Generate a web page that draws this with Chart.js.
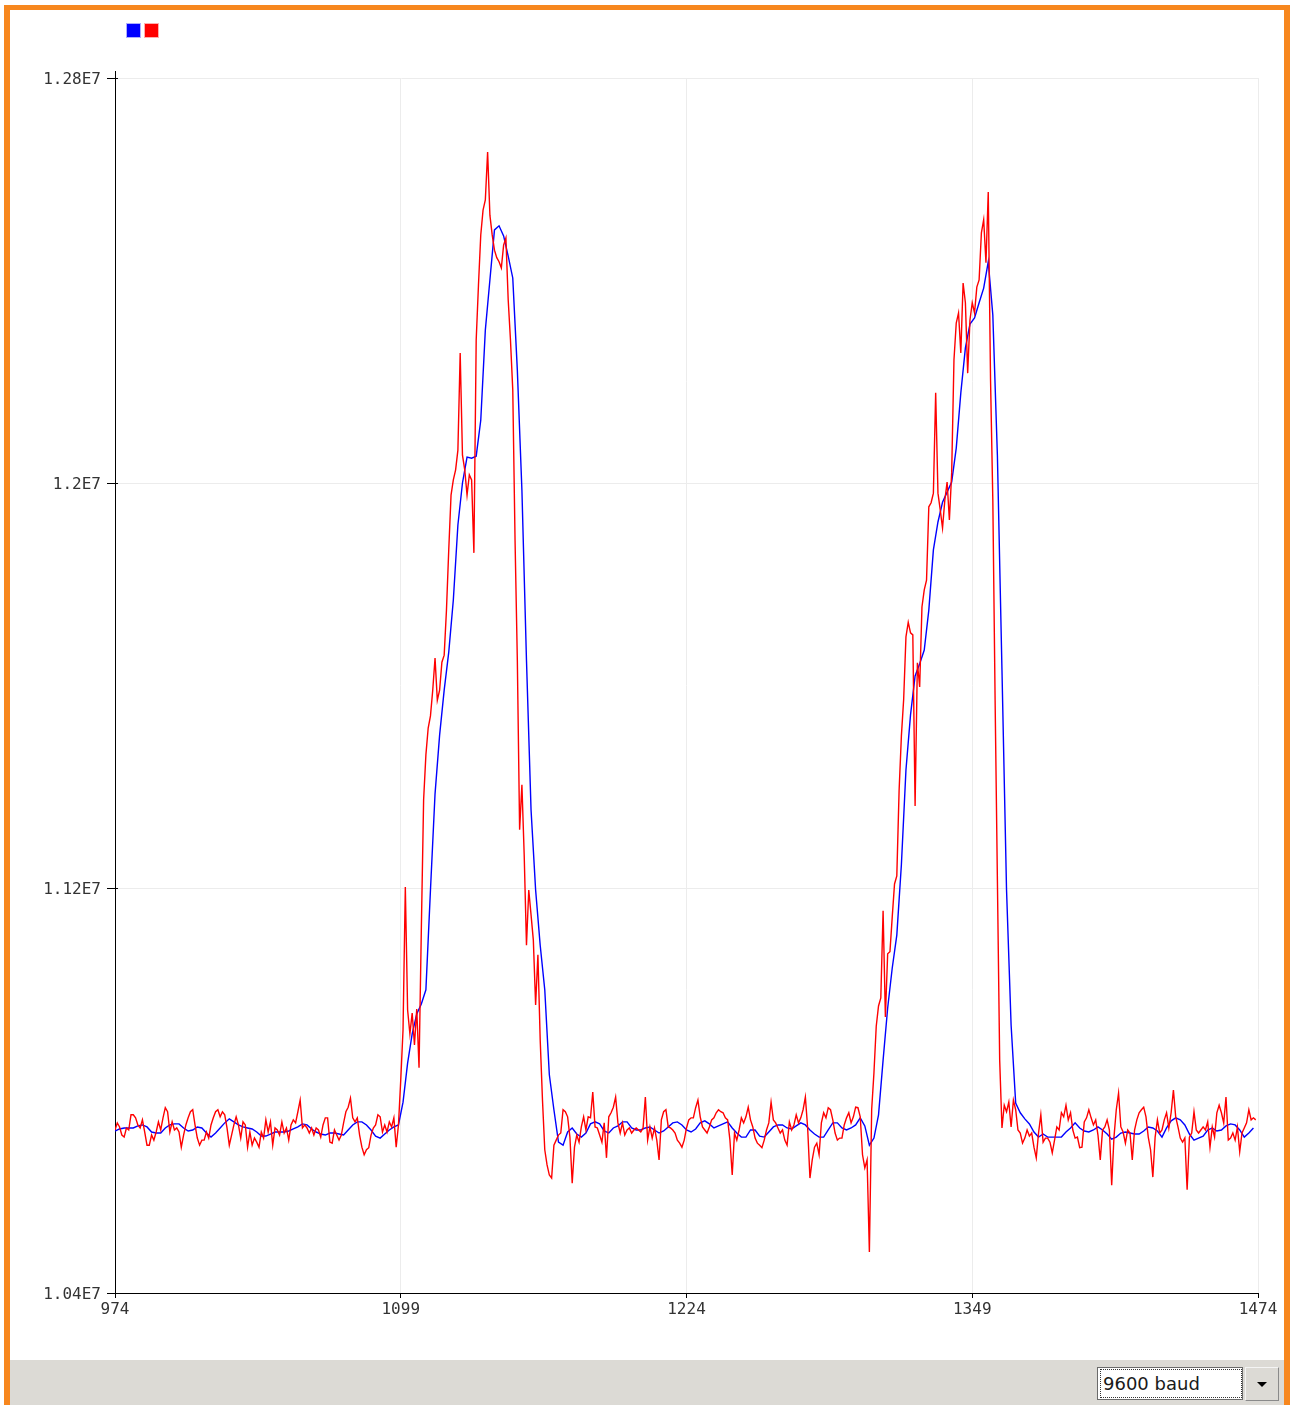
<!DOCTYPE html>
<html>
<head>
<meta charset="utf-8">
<title>Serial Plotter</title>
<script src="https://cdn.jsdelivr.net/npm/chart.js@4.4.1/dist/chart.umd.min.js"></script>
<style>
  html, body { margin: 0; padding: 0; background: #ffffff; }
  body { width: 1290px; height: 1405px; position: relative; overflow: hidden; }
  #plot { position: absolute; left: 0; top: 0; }
  .frame { position: absolute; background: #F7871E; }
  #frameTop { left: 4px; top: 5px; width: 1286px; height: 5px; }
  #frameLeft { left: 4px; top: 5px; width: 6px; height: 1400px; }
  #frameRight { left: 1284px; top: 5px; width: 6px; height: 1400px; }
  #statusBar { position: absolute; left: 10px; top: 1360px; width: 1274px; height: 45px; background: #DCDAD5; }
  #baudBox { position: absolute; left: 1097px; top: 1367px; width: 146px; height: 33px;
             background: #ffffff; border: 1px solid #6a6a6a; box-sizing: border-box; }
  #baudBox span { position: absolute; left: 3px; top: 2px; right: 1px; bottom: 2px;
                  outline: 1px dotted #333; font-family: "DejaVu Sans", sans-serif; font-size: 18px;
                  line-height: 27px; color: #1a1a1a; padding-left: 2px; }
  #baudButton { position: absolute; left: 1245px; top: 1367px; width: 34px; height: 34px; box-sizing: border-box;
                background: #DCDAD5; border: 1px solid #8a8a8a; border-top-color: #f4f4f4; border-left-color: #f4f4f4; }
  #baudButton i { position: absolute; left: 11px; top: 14px; width: 0; height: 0;
                  border-left: 5px solid transparent; border-right: 5px solid transparent; border-top: 5px solid #000; }
</style>
</head>
<body>
<canvas id="plot" width="1290" height="1360"></canvas>
<div class="frame" id="frameTop"></div>
<div class="frame" id="frameLeft"></div>
<div class="frame" id="frameRight"></div>
<div id="statusBar"></div>
<div id="baudBox"><span>9600 baud</span></div>
<div id="baudButton"><i></i></div>
<script>
// Sample counter of the first reading shown and spacing of each series.
const firstSample = 974;
const rawStep = 1;
const smoothStep = 2;

// Axis ticks
const xTicks = [974, 1099, 1224, 1349, 1474];
const yTicks = [10400000, 11200000, 12000000, 12800000];
const yTickLabels = ['1.04E7', '1.12E7', '1.2E7', '1.28E7'];

// Raw sensor readings, one per sample (red trace)
const rawReadings = [
  10722e3,10736e3,10728e3,10712e3,10708e3,10726e3,10722e3,10752e3,10752e3,10746e3,
  10732e3,10726e3,10742e3,10718e3,10692e3,10692e3,10712e3,10702e3,10718e3,10738e3,
  10722e3,10746e3,10766e3,10758e3,10718e3,10738e3,10722e3,10726e3,10718e3,10688e3,
  10712e3,10732e3,10746e3,10758e3,10762e3,10732e3,10706e3,10692e3,10702e3,10702e3,
  10718e3,10706e3,10732e3,10746e3,10758e3,10762e3,10748e3,10758e3,10752e3,10726e3,
  10692e3,10712e3,10732e3,10748e3,10732e3,10706e3,10738e3,10732e3,10688e3,10718e3,
  10692e3,10706e3,10698e3,10688e3,10718e3,10706e3,10742e3,10718e3,10738e3,10692e3,
  10726e3,10722e3,10712e3,10738e3,10716e3,10726e3,10702e3,10732e3,10742e3,10736e3,
  10758e3,10781e3,10726e3,10732e3,10726e3,10716e3,10726e3,10712e3,10726e3,10722e3,
  10708e3,10732e3,10746e3,10746e3,10698e3,10696e3,10722e3,10712e3,10702e3,10712e3,
  10736e3,10758e3,10767e3,10785e3,10746e3,10738e3,10746e3,10712e3,10688e3,10673e3,
  10683e3,10687e3,10712e3,10726e3,10732e3,10752e3,10748e3,10718e3,10732e3,10718e3,
  10738e3,10728e3,10746e3,10688e3,10732e3,10821e3,10920e3,11202e3,10959e3,10912e3,
  10953e3,10890e3,10961e3,10845e3,11117e3,11374e3,11463e3,11516e3,11540e3,11591e3,
  11654e3,11571e3,11591e3,11646e3,11660e3,11749e3,11868e3,11976e3,12006e3,12026e3,
  12065e3,12257e3,12055e3,12026e3,11976e3,12016e3,12006e3,11862e3,12282e3,12391e3,
  12490e3,12539e3,12559e3,12654e3,12529e3,12490e3,12460e3,12445e3,12437e3,12425e3,
  12470e3,12484e3,12362e3,12282e3,12184e3,11887e3,11650e3,11315e3,11404e3,11265e3,
  11087e3,11196e3,11147e3,11097e3,10969e3,11068e3,10900e3,10781e3,10683e3,10653e3,
  10633e3,10627e3,10692e3,10702e3,10712e3,10716e3,10762e3,10758e3,10748e3,10708e3,
  10617e3,10688e3,10712e3,10698e3,10728e3,10748e3,10722e3,10748e3,10746e3,10797e3,
  10728e3,10726e3,10712e3,10698e3,10736e3,10667e3,10748e3,10756e3,10767e3,10787e3,
  10736e3,10716e3,10736e3,10712e3,10722e3,10726e3,10716e3,10722e3,10726e3,10722e3,
  10718e3,10726e3,10787e3,10702e3,10728e3,10706e3,10726e3,10702e3,10663e3,10742e3,
  10758e3,10762e3,10728e3,10726e3,10722e3,10716e3,10702e3,10696e3,10688e3,10702e3,
  10726e3,10742e3,10746e3,10746e3,10766e3,10781e3,10748e3,10728e3,10722e3,10716e3,
  10728e3,10742e3,10746e3,10756e3,10762e3,10758e3,10756e3,10746e3,10742e3,10702e3,
  10633e3,10716e3,10702e3,10722e3,10746e3,10736e3,10748e3,10767e3,10742e3,10728e3,
  10706e3,10696e3,10692e3,10687e3,10702e3,10722e3,10736e3,10777e3,10742e3,10736e3,
  10726e3,10716e3,10722e3,10702e3,10692e3,10738e3,10722e3,10732e3,10752e3,10736e3,
  10746e3,10762e3,10787e3,10726e3,10627e3,10663e3,10688e3,10696e3,10673e3,10736e3,
  10756e3,10746e3,10766e3,10762e3,10742e3,10716e3,10702e3,10706e3,10706e3,10732e3,
  10746e3,10756e3,10736e3,10748e3,10767e3,10766e3,10748e3,10673e3,10647e3,10663e3,
  10481e3,10762e3,10835e3,10927e3,10967e3,10983e3,11155e3,10945e3,11070e3,11074e3,
  11143e3,11208e3,11224e3,11392e3,11500e3,11573e3,11696e3,11725e3,11704e3,11700e3,
  11362e3,11645e3,11597e3,11755e3,11789e3,11808e3,11953e3,11961e3,11980e3,12178e3,
  11980e3,11947e3,11911e3,11966e3,12002e3,11927e3,12020e3,12243e3,12316e3,12336e3,
  12257e3,12395e3,12356e3,12217e3,12322e3,12356e3,12336e3,12387e3,12401e3,12494e3,
  12520e3,12435e3,12575e3,12204e3,11966e3,11571e3,11216e3,10860e3,10726e3,10771e3,
  10758e3,10777e3,10728e3,10781e3,10762e3,10722e3,10716e3,10696e3,10706e3,10722e3,
  10710e3,10716e3,10688e3,10667e3,10716e3,10752e3,10698e3,10706e3,10706e3,10698e3,
  10677e3,10702e3,10728e3,10722e3,10756e3,10748e3,10771e3,10742e3,10756e3,10722e3,
  10706e3,10708e3,10687e3,10688e3,10738e3,10746e3,10762e3,10746e3,10732e3,10742e3,
  10712e3,10663e3,10722e3,10728e3,10742e3,10722e3,10613e3,10708e3,10762e3,10795e3,
  10728e3,10718e3,10696e3,10722e3,10716e3,10663e3,10722e3,10742e3,10756e3,10762e3,
  10767e3,10748e3,10708e3,10683e3,10629e3,10708e3,10742e3,10716e3,10722e3,10742e3,
  10756e3,10726e3,10756e3,10801e3,10748e3,10728e3,10706e3,10698e3,10706e3,10604e3,
  10708e3,10716e3,10758e3,10722e3,10716e3,10722e3,10728e3,10722e3,10738e3,10688e3,
  10728e3,10708e3,10756e3,10771e3,10756e3,10736e3,10787e3,10702e3,10706e3,10716e3,
  10702e3,10728e3,10679e3,10716e3,10726e3,10736e3,10762e3,10742e3,10746e3,10742e3
];

// Smoothed readings, every second sample (blue trace)
const smoothedReadings = [
  10720e3,10724e3,10726e3,10726e3,10726e3,10730e3,10732e3,10728e3,10718e3,10716e3,
  10716e3,10726e3,10732e3,10734e3,10734e3,10726e3,10720e3,10722e3,10728e3,10726e3,
  10716e3,10708e3,10716e3,10726e3,10736e3,10744e3,10738e3,10732e3,10728e3,10726e3,
  10724e3,10718e3,10710e3,10710e3,10714e3,10718e3,10718e3,10718e3,10720e3,10724e3,
  10728e3,10734e3,10732e3,10724e3,10718e3,10714e3,10712e3,10716e3,10716e3,10714e3,
  10712e3,10722e3,10732e3,10738e3,10738e3,10732e3,10722e3,10710e3,10706e3,10714e3,
  10722e3,10728e3,10732e3,10777e3,10854e3,10912e3,10951e3,10971e3,10999e3,11196e3,
  11386e3,11502e3,11591e3,11666e3,11769e3,11917e3,12000e3,12051e3,12049e3,12053e3,
  12124e3,12302e3,12401e3,12500e3,12508e3,12488e3,12448e3,12405e3,12223e3,11986e3,
  11650e3,11354e3,11196e3,11087e3,10999e3,10831e3,10762e3,10698e3,10692e3,10718e3,
  10726e3,10714e3,10708e3,10716e3,10734e3,10738e3,10734e3,10720e3,10716e3,10726e3,
  10730e3,10738e3,10738e3,10726e3,10722e3,10722e3,10726e3,10728e3,10722e3,10716e3,
  10720e3,10728e3,10736e3,10738e3,10732e3,10722e3,10718e3,10724e3,10736e3,10740e3,
  10734e3,10726e3,10730e3,10734e3,10738e3,10726e3,10716e3,10708e3,10708e3,10722e3,
  10722e3,10710e3,10708e3,10718e3,10728e3,10732e3,10732e3,10726e3,10724e3,10730e3,
  10736e3,10732e3,10722e3,10714e3,10708e3,10708e3,10722e3,10736e3,10736e3,10726e3,
  10722e3,10726e3,10732e3,10746e3,10730e3,10692e3,10706e3,10752e3,10860e3,10963e3,
  11042e3,11107e3,11246e3,11433e3,11542e3,11619e3,11643e3,11670e3,11749e3,11868e3,
  11923e3,11962e3,11982e3,12002e3,12069e3,12178e3,12267e3,12314e3,12326e3,12356e3,
  12385e3,12437e3,12332e3,12055e3,11631e3,11196e3,10929e3,10775e3,10756e3,10744e3,
  10734e3,10718e3,10708e3,10714e3,10708e3,10708e3,10708e3,10708e3,10718e3,10726e3,
  10736e3,10726e3,10720e3,10718e3,10722e3,10728e3,10722e3,10714e3,10704e3,10708e3,
  10716e3,10718e3,10716e3,10714e3,10714e3,10720e3,10728e3,10726e3,10720e3,10708e3,
  10726e3,10740e3,10746e3,10742e3,10732e3,10714e3,10702e3,10706e3,10710e3,10722e3,
  10726e3,10720e3,10722e3,10730e3,10734e3,10732e3,10722e3,10708e3,10716e3,10726e3
];

const toPoints = (values, step) => values.map((v, i) => ({ x: firstSample + i * step, y: v }));

const axisFont = { family: 'DejaVu Sans Mono', size: 16 };
const gridColor = '#ECECEC';
const traceBlue = '#0000FF';
const traceRed = '#FF0000';

// Small extras drawn around the plot: series key squares, axis cap and inner tick stubs.
const plotterDecor = {
  id: 'plotterDecor',
  afterDraw(chart) {
    const { ctx, chartArea } = chart;
    const yScale = chart.scales.y;
    ctx.save();
    [[traceBlue, 'rgba(120,120,255,0.6)'], [traceRed, 'rgba(255,120,120,0.6)']].forEach(([c, edge], k) => {
      const x = chartArea.left + 12 + k * 18;
      const y = chartArea.top - 54;
      ctx.fillStyle = c;
      ctx.fillRect(x, y, 13, 13);
      ctx.strokeStyle = edge;
      ctx.lineWidth = 1;
      ctx.strokeRect(x - 0.5, y - 0.5, 14, 14);
    });
    ctx.strokeStyle = '#000';
    ctx.lineWidth = 1;
    ctx.beginPath();
    const ax = Math.round(chartArea.left) + 0.5;
    ctx.moveTo(ax, chartArea.top - 7);
    ctx.lineTo(ax, chartArea.top);
    yScale.ticks.forEach(t => {
      const py = Math.round(yScale.getPixelForValue(t.value)) + 0.5;
      ctx.moveTo(chartArea.left, py);
      ctx.lineTo(chartArea.left + 3, py);
    });
    ctx.stroke();
    ctx.restore();
  }
};

new Chart(document.getElementById('plot'), {
  type: 'line',
  data: {
    datasets: [
      {
        label: 'smoothed',
        data: toPoints(smoothedReadings, smoothStep),
        borderColor: traceBlue,
        borderWidth: 1.4,
        pointRadius: 0,
        tension: 0,
        order: 1
      },
      {
        label: 'raw',
        data: toPoints(rawReadings, rawStep),
        borderColor: traceRed,
        borderWidth: 1.4,
        pointRadius: 0,
        tension: 0,
        order: 0
      }
    ]
  },
  options: {
    responsive: false,
    animation: false,
    devicePixelRatio: 1,
    layout: { padding: { left: 10, top: 78, right: 32, bottom: 37 } },
    plugins: { legend: { display: false }, tooltip: { enabled: false } },
    scales: {
      x: {
        type: 'linear',
        min: 974,
        max: 1474,
        afterBuildTicks: s => { s.ticks = xTicks.map(v => ({ value: v })); },
        afterFit: s => { s.height = 30; },
        ticks: { font: axisFont, color: '#333', padding: 2, maxRotation: 0,
                 callback: v => String(v) },
        grid: { color: gridColor, tickColor: '#000', tickLength: 5 },
        border: { color: '#000', width: 1 }
      },
      y: {
        type: 'linear',
        min: 10400000,
        max: 12800000,
        afterBuildTicks: s => { s.ticks = yTicks.map(v => ({ value: v })); },
        afterFit: s => { s.width = 105; },
        ticks: { font: axisFont, color: '#333', padding: 6, labelOffset: 2,
                 callback: v => yTickLabels[yTicks.indexOf(v)] },
        grid: { color: gridColor, tickColor: '#000', tickLength: 8 },
        border: { color: '#000', width: 1 }
      }
    }
  },
  plugins: [plotterDecor]
});
</script>
</body>
</html>
